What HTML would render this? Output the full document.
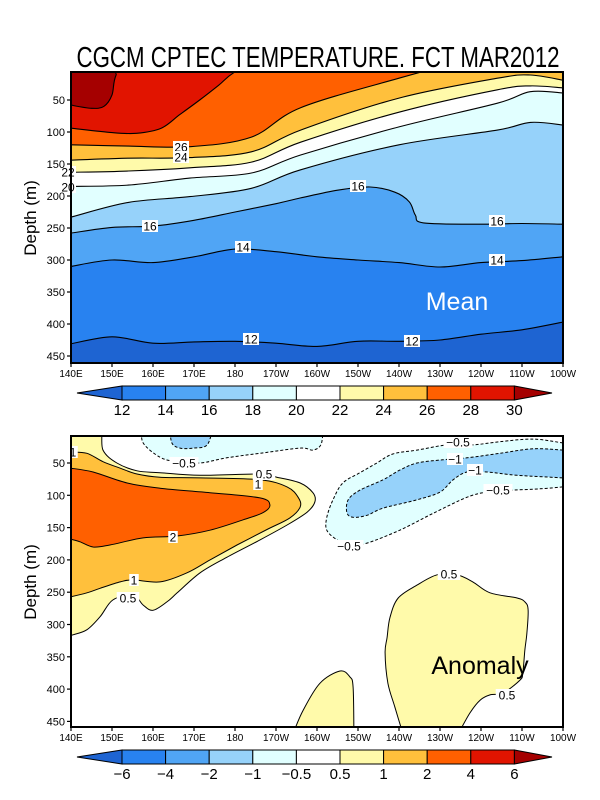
<!DOCTYPE html>
<html><head><meta charset="utf-8"><style>
html,body{margin:0;padding:0;background:#fff;}
svg{display:block;font-family:"Liberation Sans",sans-serif;}
</style></head><body>
<svg id="chart" width="600" height="800" viewBox="0 0 600 800" xmlns="http://www.w3.org/2000/svg">
<defs>
<clipPath id="clipTop"><rect x="71" y="72" width="492" height="291"/></clipPath>
<clipPath id="clipBot"><rect x="71" y="436" width="492" height="291"/></clipPath>
</defs>
<text x="318" y="67" font-size="29" text-anchor="middle" textLength="483" lengthAdjust="spacingAndGlyphs">CGCM CPTEC TEMPERATURE. FCT MAR2012</text>
<g id="topFills" clip-path="url(#clipTop)"></g>
<g id="topLines" clip-path="url(#clipTop)"></g>
<g id="botFills" clip-path="url(#clipBot)"></g>
<g id="botLines" clip-path="url(#clipBot)"></g>
<g id="labels"></g>
<rect x="71" y="72" width="492" height="291" fill="none" stroke="#000" stroke-width="2"/>
<rect x="71" y="436" width="492" height="291" fill="none" stroke="#000" stroke-width="2"/>
<text x="457" y="310" font-size="25" fill="#fff" text-anchor="middle">Mean</text>
<text x="480" y="674" font-size="25" fill="#000" text-anchor="middle">Anomaly</text>
<text transform="translate(36,218) rotate(-90)" font-size="17" text-anchor="middle">Depth (m)</text>
<text transform="translate(36,582) rotate(-90)" font-size="17" text-anchor="middle">Depth (m)</text>
<g id="axes"></g>
<g id="cbars"></g>
</svg>
<script>
// ---- Mean temperature contours (lon in degrees E, depth in m) ----
const c30Lon=[140,145,148,150,151,155,260];
const c30Dep=[58,63,60,42,11,-30,-30];
const c28Lon=[140,150,156,162,166.5,171.4,176,180,190,260];
const c28Dep=[94,101,102,94,73,50,27,6,-30,-30];
const gridLon=[140,154,169,184,196,220,244,252,260];
const c26Dep=[120,122,123,108,62,16,-25,-30,-30];
const c24Dep=[144,141,140,131,97,47,16,11,19];
const c22Dep=[163,161,156,147,116,69,34,28,31];
const c20Dep=[185,183,172,164,136,92,55,37,39];
const c18Dep=[233,210,201,188,159,120,97,85,89];
const c16Lon=[140,150,160,170,180,190,196,205,213,219,222.5,224,226,240,250,260];
const c16Dep=[258,249,247,238,225,212,203,191,186,194,209,230,242,244,243,244];
const tenLon=[140,150,160,170,180,190,200,210,220,230,240,250,260];
const c14Dep=[310,300,304,295,283,287,295,300,304,311,304,301,295];
const c12Dep=[431,420,430,428,427,430,435,427,427,425,416,409,397];
const meanLevels=["12","14","16","18","20","22","24","26","28","30"];
const anomLevels=["−6","−4","−2","−1","−0.5","0.5","1","2","4","6"];
const palette=["#1e64d2","#2882f0","#50a5f5","#96d2fa","#e1ffff","#ffffff","#fffaaa","#ffc03c","#ff6000","#e11400","#a50000"];
const depthTicks=[50,100,150,200,250,300,350,400,450];
const lonTicks=[140,150,160,170,180,190,200,210,220,230,240,250,260];
const lonTickLabels=["140E","150E","160E","170E","180","170W","160W","150W","140W","130W","120W","110W","100W"];
// ---- Anomaly contours (closed regions) ----
const p05Lon=[140,146.8,147.8,151.2,156.1,161.7,171.5,186.1,190.2,195.9,199,199.5,197.6,192.7,186.1,178,171.5,165.9,163.4,160,157.6,155.1,150.2,147.1,143.9,140.5,140];
const p05Dep=[-5,-5,30,50,62,65,69,67,72,81,96,110,126,146,169,196,220,251,265,278,270,254,262,288,308,316,316];
const p1Lon=[140,143.9,147.8,152,156.1,161.7,171.5,186.1,192.7,195.4,195.9,193.4,187.8,180.5,173.9,168.3,161.7,155.1,152,147.1,143.9,140];
const p1Dep=[33,35,48,58,67,72,73,76,87,103,118,135,153,177,200,220,234,231,234,244,251,257];
const p2Lon=[140,145.4,153.7,161.7,173.9,186.1,188.5,186.8,182,173.9,165.9,157.6,149.5,145.4,142.2,140];
const p2Dep=[58,64,81,89,96,104,115,127,138,154,163,166,177,180,172,168];
const n05aLon=[157.3,157.6,161.7,165.9,171.5,178,186.1,195.9,199,201,201.5];
const n05aDep=[-5,19,41,48,50,42,35,27,30,21,-5];
const n1aLon=[164.1,164.6,166.6,169.8,173.2,174.6];
const n1aDep=[-5,19,27,27,22,-5];
const n05bLon=[260,252.7,244.6,238,231.7,224.4,218.5,214.6,210.5,206.3,203.9,202.4,202.4,204.9,208,212.2,220.2,228.3,236.6,241.5,247.8,254.4,260];
const n05bDep=[19,13,17,22,22,30,36,50,65,81,107,134,154,169,177,174,154,128,103,95,92,90,87];
const n1bLon=[260,252.7,244.6,236.6,230.7,224.4,220.2,216.1,210.5,207.6,207.3,208.8,212.2,216.1,224.4,230,233.2,236.6,241.5,248.8,260];
const n1bDep=[30,28,35,42,45,50,61,76,92,107,127,134,131,120,107,95,76,64,64,69,73];
const bA_Lon=[221,219,217.3,216.6,217.1,217.8,219.8,224.4,229.3,234.1,238,242.2,248.8,250.7,251.5,251.2,250.7,250.2,249.5,245.4,242.2,239.8,237.3,234.4];
const bA_Dep=[470,428,391,344,320,289,259,239,223,223,234,251,259,265,277,313,339,375,386,406,409,417,437,470];
const bB_Lon=[194.1,196.6,200.7,205.6,208,208.8,209];
const bB_Dep=[470,433,391,372,381,397,470];

const NS="http://www.w3.org/2000/svg";
const xOf=lon=>71+(lon-140)*4.1;
const yTop=d=>68+0.64*d;
const yBot=d=>430.7+0.646*d;
function mk(tag,attrs,parent){const e=document.createElementNS(NS,tag);for(const k in attrs)e.setAttribute(k,attrs[k]);parent.appendChild(e);return e;}
function spline(pts){
  if(pts.length<3)return "M"+pts.map(p=>p.join(",")).join("L");
  let s="M"+pts[0][0].toFixed(1)+","+pts[0][1].toFixed(1);
  for(let i=0;i<pts.length-1;i++){
    const p0=pts[Math.max(0,i-1)],p1=pts[i],p2=pts[i+1],p3=pts[Math.min(pts.length-1,i+2)];
    const c1=[p1[0]+(p2[0]-p0[0])/6,p1[1]+(p2[1]-p0[1])/6];
    const c2=[p2[0]-(p3[0]-p1[0])/6,p2[1]-(p3[1]-p1[1])/6];
    s+="C"+c1[0].toFixed(1)+","+c1[1].toFixed(1)+" "+c2[0].toFixed(1)+","+c2[1].toFixed(1)+" "+p2[0].toFixed(1)+","+p2[1].toFixed(1);
  }
  return s;
}
const tf=document.getElementById("topFills"),tl=document.getElementById("topLines");
const bf=document.getElementById("botFills"),bl=document.getElementById("botLines");
const lab=document.getElementById("labels"),ax=document.getElementById("axes"),cb=document.getElementById("cbars");

// Mean panel
let bg=mk("rect",{x:71,y:72,width:492,height:291,fill:palette[10]},tf);


const meanContours=[[c30Lon,c30Dep,"30"],[c28Lon,c28Dep,"28"],[gridLon,c26Dep,"26"],[gridLon,c24Dep,"24"],[gridLon,c22Dep,"22"],[gridLon,c20Dep,"20"],[gridLon,c18Dep,"18"],[c16Lon,c16Dep,"16"],[tenLon,c14Dep,"14"],[tenLon,c12Dep,"12"]];
meanContours.forEach((c,i)=>{
  const pts=c[0].map((lon,j)=>[xOf(lon),yTop(c[1][j])]);
  const line=spline(pts);
  const f=mk("path",{d:line+"L"+xOf(260)+","+yTop(500)+"L"+xOf(140)+","+yTop(500)+"Z",fill:palette[9-i]},tf);
  
  
  const l=mk("path",{d:line,fill:"none",stroke:"#000","stroke-width":1.1},tl);
  
  
});

// Anomaly panel
const anomRegions=[[p05Lon,p05Dep,6,false,"pos-0.5-tongue"],[bA_Lon,bA_Dep,6,false,"pos-0.5-east"],[bB_Lon,bB_Dep,6,false,"pos-0.5-central"],[p1Lon,p1Dep,7,false,"pos-1"],[p2Lon,p2Dep,8,false,"pos-2"],[n05aLon,n05aDep,4,true,"neg-0.5-west"],[n1aLon,n1aDep,3,true,"neg-1-west"],[n05bLon,n05bDep,4,true,"neg-0.5-east"],[n1bLon,n1bDep,3,true,"neg-1-east"]];
anomRegions.forEach(r=>{
  const pts=r[0].map((lon,j)=>[xOf(lon),yBot(r[1][j])]);
  const d=spline(pts)+"Z";
  const f=mk("path",{d:d,fill:palette[r[2]]},bf);
  
  
  const l=mk("path",{d:d,fill:"none",stroke:"#000","stroke-width":1,"stroke-dasharray":r[3]?"3,2":"none"},bl);
  
  
});

// Contour labels
const labelTexts=["26","24","22","20","16","14","16","16","14","12","12","1","−0.5","0.5","1","2","1","0.5","−0.5","−1","−1","−0.5","−0.5","0.5","0.5"];
const labelPos=[[181,147],[181,157],[68,172],[68,187],[150,226],[243,247],[358,186],[497,221],[497,260],[251,339],[412,341],[73,452],[184,463],[264,474],[258,484],[173,537],[134,580],[128,598],[458,442],[455,459],[475,470],[498,490],[349,546],[449,574],[507,695]];
labelTexts.forEach((t,i)=>{
  const [x,y]=labelPos[i];
  const w=t.length*6.5+3;
  const r=mk("rect",{x:x-w/2,y:y-6,width:w,height:12,fill:"#fff"},lab);
  
  
  const e=mk("text",{x:x,y:y+4.5,"font-size":12,"text-anchor":"middle"},lab);
  
  
  e.textContent=t;
});

// Axes ticks
[[yTop,363,"mean"],[yBot,727,"anomaly"]].forEach(p=>{
  const yf=p[0],base=p[1];
  depthTicks.forEach(d=>{
    const y=yf(d);
    const t=mk("line",{x1:67,x2:71,y1:y,y2:y,stroke:"#000","stroke-width":1.2},ax);
    
    
    const e=mk("text",{x:65,y:y+4,"font-size":11,"text-anchor":"end"},ax);
    
    
    e.textContent=d;
  });
  lonTicks.forEach((lon,i)=>{
    const x=xOf(lon);
    const t=mk("line",{x1:x,x2:x,y1:base,y2:base+4,stroke:"#000","stroke-width":1.2},ax);
    
    
    const e=mk("text",{x:x,y:base+14,"font-size":10,"text-anchor":"middle"},ax);
    
    
    e.textContent=lonTickLabels[i];
  });
});

// Colorbars
[[386,meanLevels,"mean"],[750,anomLevels,"anomaly"]].forEach(b=>{
  const y0=b[0],h=14,x0=122,w=43.6;
  const l=mk("polygon",{points:(x0)+","+y0+" "+(x0)+","+(y0+h)+" 77,"+(y0+h/2),fill:palette[0],stroke:"#000","stroke-width":1},cb);
  
  
  for(let i=0;i<9;i++){
    const r=mk("rect",{x:x0+i*w,y:y0,width:w,height:h,fill:palette[i+1],stroke:"#000","stroke-width":1},cb);
    
    
  }
  const xr=x0+9*w;
  const rt=mk("polygon",{points:xr+","+y0+" "+xr+","+(y0+h)+" 552,"+(y0+h/2),fill:palette[10],stroke:"#000","stroke-width":1},cb);
  
  
  b[1].forEach((t,i)=>{
    const e=mk("text",{x:x0+i*w,y:y0+h+15,"font-size":15,"text-anchor":"middle"},cb);
    
    
    e.textContent=t;
  });
});
</script>
</body></html>
